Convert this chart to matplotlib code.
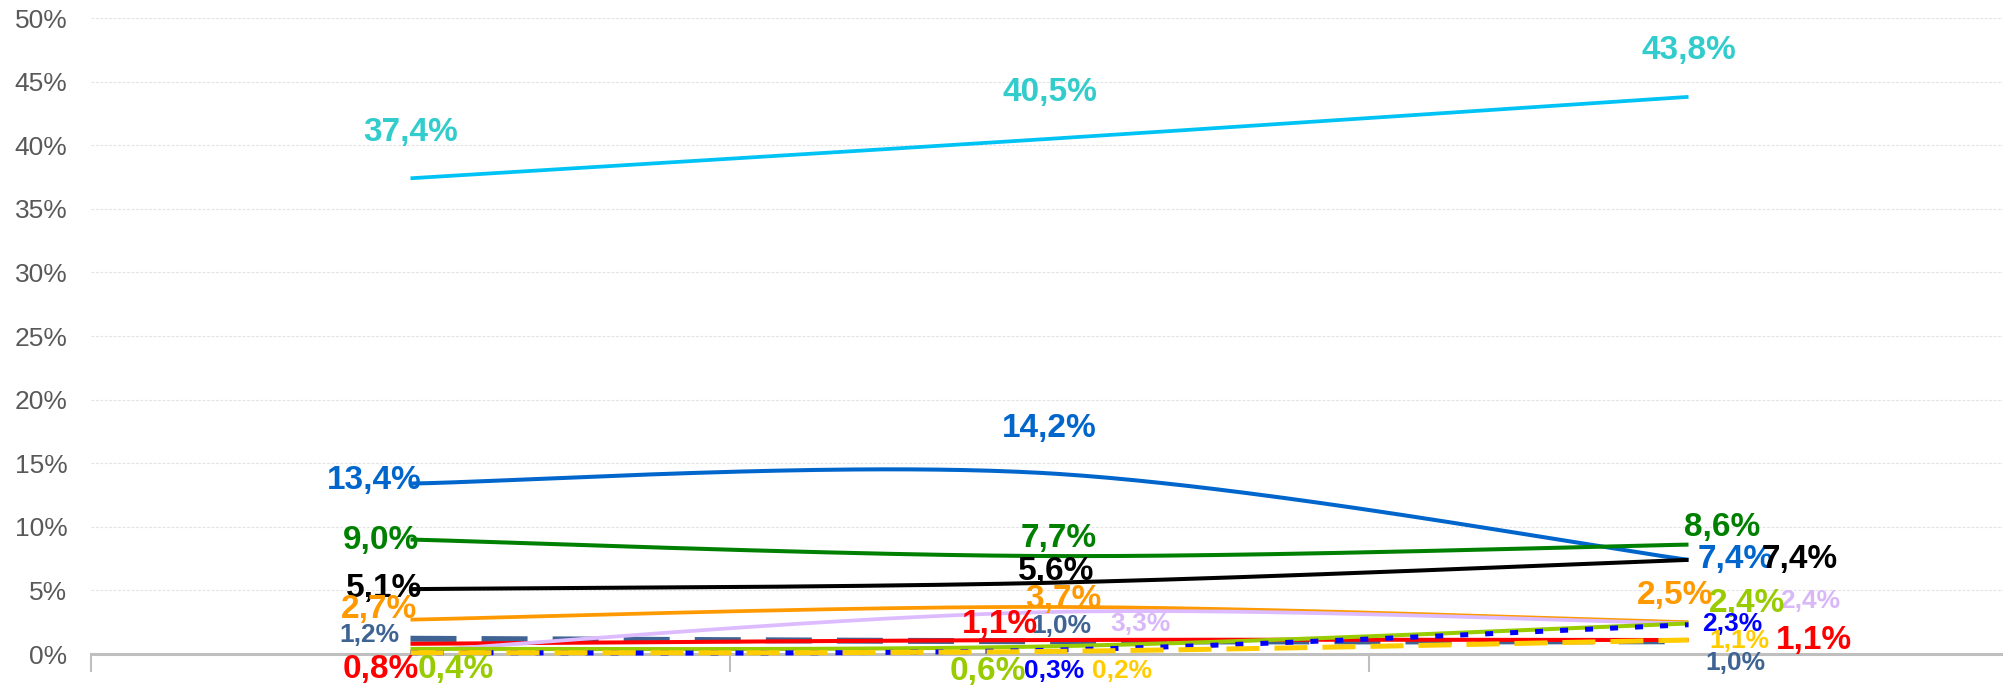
import matplotlib.pyplot as plt
import numpy as np

# ==== DATOS (porcentaje por periodo) ====
periodos = [0, 1, 2]
serie_cian = [37.4, 40.5, 43.8]
serie_azul = [13.4, 14.2, 7.4]
serie_verde = [9.0, 7.7, 8.6]
serie_negra = [5.1, 5.6, 7.4]
serie_naranja = [2.7, 3.7, 2.5]
serie_pizarra = [1.2, 1.0, 1.0]
serie_roja = [0.8, 1.1, 1.1]
serie_lila = [0.2, 3.3, 2.4]
serie_lima = [0.4, 0.6, 2.4]
serie_azul_punteada = [0.1, 0.3, 2.3]
serie_amarilla = [0.1, 0.2, 1.1]
ticks_y = [0, 5, 10, 15, 20, 25, 30, 35, 40, 45, 50]

plt.rcParams['font.family'] = ['Liberation Sans', 'DejaVu Sans']

G, P = 24, 19  # tamaño de etiqueta grande / pequeña

# (valores, color linea, color etiqueta, grosor, estilo, [(dx, dy, tamaño) o None por punto])
series = [
    (serie_cian, '#00C3F5', '#33CCCC', 2.7, '-', [(0, 46, G), (0, 46, G), (0, 46, G)]),
    (serie_azul, '#0066CC', '#0066CC', 2.9, '-', [(-36, 3, G), (0, 45, G), (47, 0, G)]),
    (serie_verde, '#008000', '#008000', 2.9, '-', [(-30, -1, G), (9, 18, G), (34, 17, G)]),
    (serie_negra, '#000000', '#000000', 2.9, '-', [(-26, 1, G), (7, 11, G), (111, 0, G)]),
    (serie_naranja, '#FF9900', '#FF9900', 2.7, '-', [(-32, 10, G), (14, 7, G), (-13, 27, G)]),
    (serie_pizarra, '#3F6493', '#3F6493', 4.3, (0, (7.7, 4.2)), [(-41, 4, P), (12, 15, P), (47, -22, P)]),
    (serie_roja, '#FF0000', '#FF0000', 2.9, '-', [(-30, -26, G), (-50, 16, G), (125, 0, G)]),
    (serie_lila, '#DDBBFF', '#D9B8F8', 2.7, '-', [None, (91, -12, P), (122, 22, P)]),
    (serie_lima, '#99CC00', '#99CC00', 2.9, '-', [(45, -21, G), (-62, -25, G), (58, 20, G)]),
    (serie_azul_punteada, '#0000FF', '#0000FF', 3.6, (0, (1.6, 3.4)), [None, (5, -21, P), (44, 1, P)]),
    (serie_amarilla, '#FFCC00', '#FFCC00', 3.6, (0, (6.6, 3.0)), [None, (73, -20, P), (51, -1, P)]),
]


def suavizar(x, y, n=80):
    # curva suavizada tipo Excel (bezier cubica entre puntos)
    pts = np.column_stack([x, y]).astype(float)
    ext = np.vstack([pts[0], pts, pts[-1]])
    t = np.linspace(0, 1, n)[:, None]
    tramos = []
    for i in range(len(pts) - 1):
        p0, p3 = ext[i + 1], ext[i + 2]
        c1 = p0 + (ext[i + 2] - ext[i]) / 6
        c2 = p3 - (ext[i + 3] - ext[i + 1]) / 6
        b = (1 - t) ** 3 * p0 + 3 * (1 - t) ** 2 * t * c1 + 3 * (1 - t) * t ** 2 * c2 + t ** 3 * p3
        tramos.append(b if i == 0 else b[1:])
    curva = np.vstack(tramos)
    return curva[:, 0], curva[:, 1]


fig = plt.figure(figsize=(20.03, 6.86), dpi=100)
ax = fig.add_axes([91 / 2003, 32 / 686, 1912 / 2003, 636 / 686])

for valores, color, color_txt, lw, estilo, etiquetas in series:
    xs, ys = suavizar(periodos, valores)
    ax.plot(xs, ys, color=color, linewidth=lw, linestyle=estilo,
            solid_capstyle='butt', dash_capstyle='butt', clip_on=False)
    for i, v in enumerate(valores):
        if etiquetas[i] is None:
            continue
        dx, dy, tam = etiquetas[i]
        texto = f"{v:.1f}".replace('.', ',') + '%'
        ax.annotate(texto, (periodos[i], v), xytext=(dx, dy), textcoords='offset pixels',
                    ha='center', va='center', color=color_txt, fontsize=tam,
                    fontweight='bold', zorder=10)

ax.set_xlim(-0.5, -0.5 + 1912 / 639)
ax.set_ylim(0, 50)
ax.set_yticks(ticks_y)
ax.set_yticklabels([f"{v}%" for v in ticks_y], color='#595959', fontsize=19)
ax.tick_params(axis='y', length=0, pad=17)
ax.set_xticks([-0.5, 0.5, 1.5])
ax.set_xticklabels([])
ax.tick_params(axis='x', length=13, width=1.5, color='#BFBFBF', direction='out')

ax.yaxis.grid(True, color='#E3E3E3', linestyle=(0, (2.5, 1.5)), linewidth=0.8)
ax.set_axisbelow(True)
for lado in ['top', 'right', 'left']:
    ax.spines[lado].set_visible(False)
ax.spines['bottom'].set_color('#BFBFBF')
ax.spines['bottom'].set_linewidth(2.2)
ax.spines['bottom'].set_zorder(0.5)

plt.savefig("out.png", dpi=100)
plt.close()
